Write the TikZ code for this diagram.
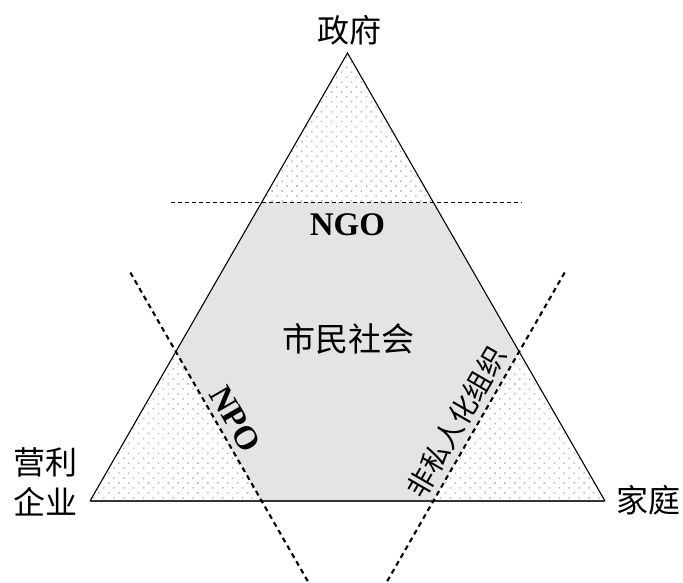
\documentclass[tikz,border=0pt]{standalone}
\usepackage{fontspec}
\setmainfont{Liberation Serif}
\newfontfamily\cjk{Noto Sans CJK SC}
\usetikzlibrary{patterns.meta,calc}
\definecolor{midgray}{HTML}{E4E4E4}
\definecolor{dotgray}{HTML}{BEBEBE}
\tikzset{
  cornerfill/.style={pattern={Dots[distance=7pt,radius=1.1pt,angle=45]},pattern color=dotgray},
  centerfill/.style={fill=midgray},
  cutline/.style={dash pattern=on 4pt off 3pt,line width=1.5pt},
  slantline/.style={dash pattern=on 5pt off 4pt,line width=2.1pt},
  cjklabel/.style={font=\cjk\fontsize{32}{40}\selectfont,inner sep=0pt},
  latlabel/.style={font=\bfseries\fontsize{33}{40}\selectfont,inner sep=0pt},
}
\begin{document}
\begin{tikzpicture}[x=1pt,y=-1pt]
\useasboundingbox (0,0) rectangle (683,582);
% corners
\coordinate (A) at (347.5,53);
\coordinate (B) at (90,501);
\coordinate (C) at (605,501);
% third points
\coordinate (AB) at (261.67,202.33);
\coordinate (AC) at (433.33,202.33);
\coordinate (BA) at (175.83,351.67);
\coordinate (BC) at (261.67,501);
\coordinate (CB) at (433.33,501);
\coordinate (CA) at (519.17,351.67);
% fills
\fill[white] (A) -- (B) -- (C) -- cycle;
\path[cornerfill] (A) -- (AB) -- (AC) -- cycle;
\path[cornerfill] (B) -- (BA) -- (BC) -- cycle;
\path[cornerfill] (C) -- (CB) -- (CA) -- cycle;
\fill[centerfill] (AB) -- (AC) -- (CA) -- (CB) -- (BC) -- (BA) -- cycle;
% outline
\draw[line width=1.1pt,line join=miter] (B) -- (A) -- (C);
\draw[line width=1.7pt,draw=black!80] (B) -- (C);
% dashed cut lines
\draw[cutline] ($(AB)!-0.53!(AC)$) -- ($(AC)!-0.51!(AB)$);
\draw[slantline] ($(BA)!-0.53!(BC)$) -- ($(BC)!-0.56!(BA)$);
\draw[slantline] ($(CA)!-0.53!(CB)$) -- ($(CB)!-0.56!(CA)$);
% labels
\node[cjklabel] (gov) at (349.5,30) {政府};
\node[cjklabel] (biz1) at (45,462) {营利};
\node[cjklabel] (biz2) at (45,502) {企业};
\node[cjklabel] (fam) at (648.5,500) {家庭};
\node[cjklabel,font=\cjk\fontsize{33}{40}\selectfont] (civ) at (348,339) {市民社会};
\node[latlabel,anchor=base] (ngo) at (347.5,235) {NGO};
\node[latlabel,rotate=-60] (npo) at (235,419) {NPO};
\node[cjklabel,font=\cjk\fontsize{28}{34}\selectfont,rotate=60] (npr) at (456,422) {非私人化组织};
\end{tikzpicture}
\end{document}
